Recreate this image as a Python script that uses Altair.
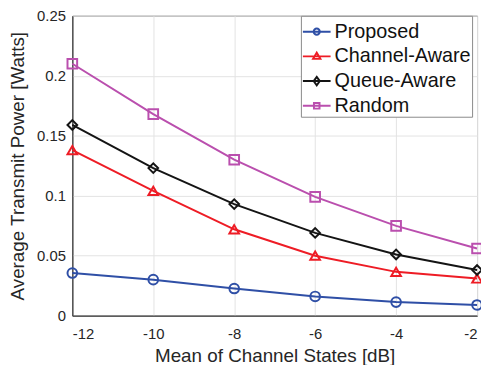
import altair as alt
import pandas as pd

x_vals = [-12, -10, -8, -6, -4, -2]
series_names = ["Proposed", "Channel-Aware", "Queue-Aware", "Random"]
proposed = [0.0355, 0.0300, 0.0226, 0.0160, 0.0113, 0.0089]
channel_aware = [0.138, 0.104, 0.072, 0.050, 0.0365, 0.031]
queue_aware = [0.159, 0.123, 0.093, 0.069, 0.051, 0.038]
random_sel = [0.210, 0.168, 0.130, 0.099, 0.0748, 0.056]
y_ticks = [0, 0.05, 0.1, 0.15, 0.2, 0.25]

colors = ["#2F4FA6", "#EE1C25", "#141414", "#BA4FAE"]
shapes = ["circle", "triangle-up", "diamond", "square"]
legend_paths = [
    "M-1,0H1M-0.22,0A0.22,0.22 0 1,0 0.22,0A0.22,0.22 0 1,0 -0.22,0",
    "M-1,0H1M-0.26,0.18L0,-0.26L0.26,0.18Z",
    "M-1,0H1M-0.22,0L0,-0.3L0.22,0L0,0.3Z",
    "M-1,0H1M-0.2,-0.2H0.2V0.2H-0.2Z",
]

rows = []
for name, vals in zip(series_names, [proposed, channel_aware, queue_aware, random_sel]):
    for xv, yv in zip(x_vals, vals):
        rows.append({"x": xv, "y": yv, "series": name})
df = pd.DataFrame(rows)

FONT = "Liberation Sans"
TXT = "#262626"

xenc = alt.X("x:Q", scale=alt.Scale(domain=[-12, -2], nice=False),
             axis=alt.Axis(values=x_vals, title="Mean of Channel States [dB]",
                           labelExpr="'' + datum.value", labelPadding=11,
                           titlePadding=5))
yenc = alt.Y("y:Q", scale=alt.Scale(domain=[0, 0.25], nice=False),
             axis=alt.Axis(values=y_ticks, title="Average Transmit Power [Watts]",
                           format=".2~f", labelPadding=7, titlePadding=9))

base = alt.Chart(df)

lines = base.mark_line(strokeWidth=2).encode(
    x=xenc, y=yenc,
    color=alt.Color("series:N", scale=alt.Scale(domain=series_names, range=colors), legend=None),
    detail="series:N",
)

points = base.mark_point(filled=False, strokeWidth=2, size=95, opacity=1).encode(
    x=xenc, y=yenc,
    color=alt.Color("series:N", scale=alt.Scale(domain=series_names, range=colors), legend=None),
    shape=alt.Shape("series:N", scale=alt.Scale(domain=series_names, range=shapes), legend=None),
)

leg = alt.Legend(title=None, orient="none", legendX=231, legendY=0,
                 symbolSize=784, symbolStrokeWidth=2, symbolOpacity=1,
                 symbolFillColor="transparent",
                 labelFont=FONT, labelFontSize=20, labelColor="#111111",
                 labelOffset=3, padding=1, rowPadding=0,
                 strokeColor="#8a8a8a", fillColor="white")

legend_layer = base.mark_point(filled=False, opacity=0, size=784).encode(
    x=xenc, y=yenc,
    color=alt.Color("series:N", scale=alt.Scale(domain=series_names, range=colors), legend=leg),
    shape=alt.Shape("series:N", scale=alt.Scale(domain=series_names, range=legend_paths), legend=leg),
)

chart = alt.layer(lines, points, legend_layer).resolve_scale(
    shape="independent", color="independent"
).properties(
    width=409, height=303,
    padding={"left": 65, "top": 6, "right": 4, "bottom": 48},
    autosize=alt.AutoSizeParams(type="none"),
).configure_view(
    stroke=TXT, strokeWidth=1
).configure_axis(
    labelFont=FONT, labelFontSize=15, labelColor=TXT,
    titleFont=FONT, titleFontSize=19, titleFontWeight="normal", titleColor=TXT,
    domainColor=TXT, domainWidth=1, ticks=False,
    gridColor="#e3e3e3", gridWidth=1,
)

chart.save("out.html", embed_options={"renderer": "svg", "actions": False})
